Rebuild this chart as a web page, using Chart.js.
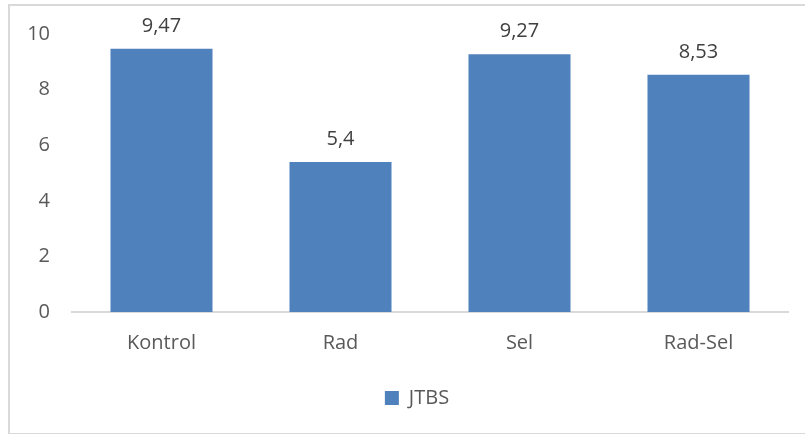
<!DOCTYPE html>
<html lang="id">
<head>
<meta charset="UTF-8">
<title>JTBS</title>
<style>
    body { margin: 0; background: #fff; }
    #wrap { position: relative; width: 805px; height: 434px; overflow: hidden; }
    #frame {
        position: absolute; left: 8px; top: 4px; width: 820px; height: 427px;
        border: 2px solid #d9d9d9; border-right: none;
    }
    canvas { position: absolute; left: 0; top: 0; }
</style>
</head>
<body>
<div id="wrap">
    <div id="frame"></div>
    <canvas id="chart" width="805" height="434"></canvas>
</div>
<script src="https://cdn.jsdelivr.net/npm/chart.js"></script>
<script>
    var categories = ['Kontrol', 'Rad', 'Sel', 'Rad-Sel'];
    var jtbs = [9.47, 5.4, 9.27, 8.53];
    var yTicks = [0, 2, 4, 6, 8, 10];

    var textFont = "'Open Sans', sans-serif";

    // value labels above each bar, comma as decimal separator
    var valueLabels = {
        id: 'valueLabels',
        afterDatasetsDraw: function(chart) {
            var ctx = chart.ctx;
            var meta = chart.getDatasetMeta(0);
            ctx.save();
            ctx.font = '20px ' + textFont;
            ctx.fillStyle = '#404040';
            ctx.textAlign = 'center';
            ctx.textBaseline = 'alphabetic';
            meta.data.forEach(function(bar, i) {
                var txt = String(jtbs[i]).replace('.', ',');
                ctx.fillText(txt, bar.x, bar.y - 17);
            });
            ctx.restore();
        }
    };

    // nudge the legend box so it centres a little right of the canvas middle
    var legendShift = {
        id: 'legendShift',
        afterLayout: function(chart) {
            if (chart.legend) chart.legend.left = 46;
        }
    };

    var ctx = document.getElementById('chart').getContext('2d');
    new Chart(ctx, {
        type: 'bar',
        data: {
            labels: categories,
            datasets: [{
                label: 'JTBS',
                data: jtbs,
                backgroundColor: '#4f81bd',
                borderWidth: 0,
                categoryPercentage: 1,
                barPercentage: 0.57
            }]
        },
        options: {
            responsive: false,
            animation: false,
            layout: { padding: { top: 34, right: 17, left: 0, bottom: 16 } },
            plugins: {
                tooltip: { enabled: false },
                legend: {
                    position: 'bottom',
                    labels: {
                        boxWidth: 14,
                        boxHeight: 14,
                        padding: 10,
                        color: '#595959',
                        font: { family: textFont, size: 20 }
                    }
                }
            },
            scales: {
                x: {
                    grid: { display: false, drawTicks: false },
                    border: { display: true, color: '#d9d9d9', width: 2 },
                    ticks: {
                        color: '#595959',
                        padding: 19,
                        font: { family: textFont, size: 20 }
                    },
                    afterFit: function(scale) { scale.height = 66; }
                },
                y: {
                    min: 0,
                    max: 10,
                    grid: { display: false, drawTicks: false },
                    border: { display: false },
                    afterBuildTicks: function(scale) {
                        scale.ticks = yTicks.map(function(v) { return { value: v }; });
                    },
                    ticks: {
                        color: '#595959',
                        padding: 22,
                        font: { family: textFont, size: 20 }
                    },
                    afterFit: function(scale) { scale.width = 72; }
                }
            }
        },
        plugins: [valueLabels, legendShift]
    });
</script>
</body>
</html>
